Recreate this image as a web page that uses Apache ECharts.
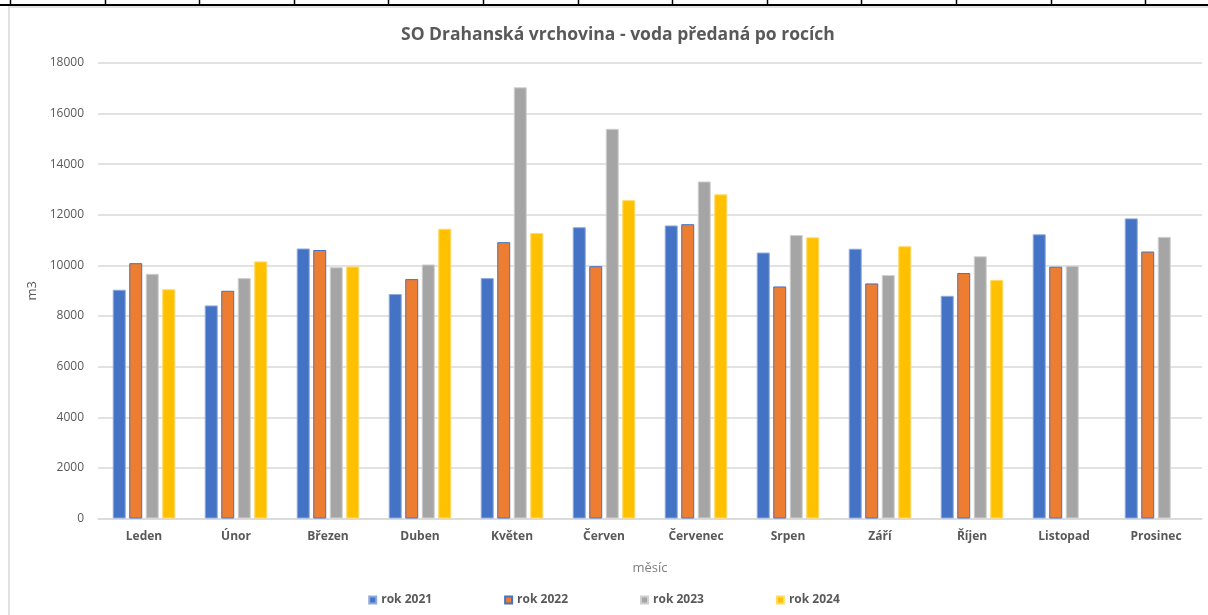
<!DOCTYPE html>
<html>
<head>
<meta charset="utf-8">
<script src="https://cdn.jsdelivr.net/npm/echarts@6/dist/echarts.min.js"></script>
<style>html,body{margin:0;padding:0;background:#fff;}#c{width:1208px;height:615px;}</style>
</head>
<body>
<div id="c"></div>
<script>
const months = ['Leden','Únor','Březen','Duben','Květen','Červen','Červenec','Srpen','Září','Říjen','Listopad','Prosinec'];
const seriesNames = ['rok 2021','rok 2022','rok 2023','rok 2024'];
const rok2021 = [9040, 8420, 10670, 8870, 9500, 11510, 11580, 10510, 10660, 8800, 11230, 11860];
const rok2022 = [10090, 9000, 10610, 9460, 10920, 9970, 11630, 9170, 9290, 9700, 9950, 10550];
const rok2023 = [9670, 9500, 9930, 10040, 17040, 15400, 13320, 11200, 9620, 10360, 9990, 11130];
const rok2024 = [9060, 10160, 9960, 11450, 11280, 12580, 12810, 11110, 10760, 9430, null, null];
const yTicks = {min: 0, max: 18000, interval: 2000};

const colors = ['#4472C4', '#ED7D31', '#A5A5A5', '#FFC000'];
const borders = ['#8FAADC', '#4472C4', '#D0D0D0', '#FFD966'];
const values = [rok2021, rok2022, rok2023, rok2024];

const chart = echarts.init(document.getElementById('c'));

const deco = [];
// chart frame
deco.push({type:'rect', shape:{x:9, y:7, width:1210, height:620}, style:{fill:null, stroke:'#D9D9D9', lineWidth:1.5}, z:-1});
// spreadsheet grid at top
deco.push({type:'line', shape:{x1:0, y1:5, x2:1208, y2:5}, style:{stroke:'#000', lineWidth:2}});
for (let k = 0; k < 13; k++) {
  const x = Math.round(10 + 94.6 * k) + 0.5;
  deco.push({type:'line', shape:{x1:x, y1:0, x2:x, y2:5}, style:{stroke:'#000', lineWidth:1.5}});
}

chart.setOption({
  animation: false,
  backgroundColor: '#fff',
  color: colors,
  title: {
    text: 'SO Drahanská vrchovina - voda předaná po rocích',
    left: 396,
    top: 21,
    textStyle: {fontFamily: 'Open Sans', fontSize: 17.5, fontWeight: 'bold', color: '#595959'}
  },
  legend: {
    bottom: 4,
    left: 'center',
    itemWidth: 7,
    itemHeight: 7,
    itemGap: 72,
    icon: 'rect',
    textStyle: {fontFamily: 'Open Sans', fontSize: 12, fontWeight: 'bold', color: '#595959'},
    data: seriesNames
  },
  grid: {left: 98, right: 6, top: 63, bottom: 96.5, containLabel: false},
  xAxis: {
    type: 'category',
    data: months,
    name: 'měsíc',
    nameLocation: 'middle',
    nameGap: 43,
    nameTextStyle: {fontFamily: 'Open Sans', fontSize: 13, color: '#7F7F7F'},
    axisLine: {lineStyle: {color: '#D9D9D9', width: 1.5}},
    axisTick: {show: false},
    axisLabel: {fontFamily: 'Open Sans', fontSize: 12, fontWeight: 'bold', color: '#595959', margin: 12}
  },
  yAxis: {
    type: 'value',
    min: yTicks.min,
    max: yTicks.max,
    interval: yTicks.interval,
    name: 'm3',
    nameLocation: 'middle',
    nameGap: 56,
    nameRotate: 90,
    nameTextStyle: {fontFamily: 'Open Sans', fontSize: 13, color: '#595959'},
    axisLine: {show: false},
    axisTick: {show: false},
    axisLabel: {fontFamily: 'Open Sans', fontSize: 12, color: '#595959', margin: 14, formatter: v => String(v)},
    splitLine: {lineStyle: {color: '#D9D9D9', width: 1.5}}
  },
  series: seriesNames.map((n, i) => ({
    name: n,
    type: 'bar',
    data: values[i],
    barWidth: 13,
    barGap: '27%',
    itemStyle: {color: colors[i], borderColor: borders[i], borderWidth: 1}
  })),
  graphic: deco
});
</script>
</body>
</html>
